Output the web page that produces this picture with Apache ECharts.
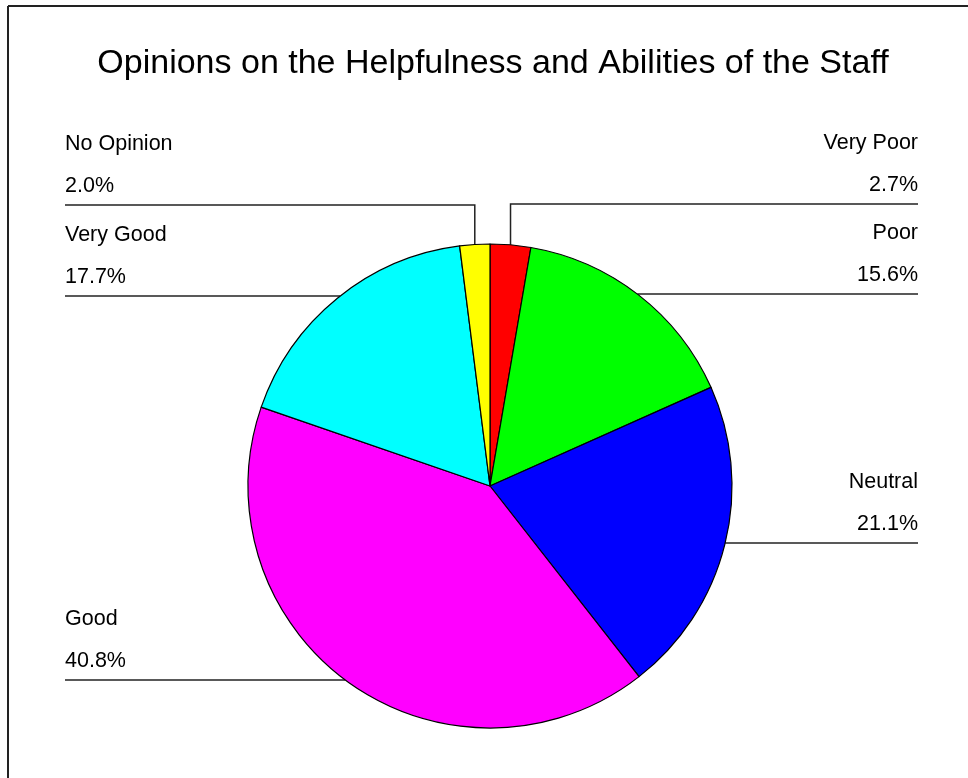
<!DOCTYPE html>
<html><head><meta charset="utf-8">
<script src="https://cdn.jsdelivr.net/npm/echarts@6/dist/echarts.min.js"></script>
<style>html,body{margin:0;padding:0;background:#fff}#c{width:968px;height:778px}</style>
</head><body><div id="c"></div>
<script>
const categories = ['Very Poor', 'Poor', 'Neutral', 'Good', 'Very Good', 'No Opinion'];
const values = [2.7, 15.6, 21.1, 40.8, 17.7, 2.0];
const colors = ['#FF0000', '#00FF00', '#0000FF', '#FF00FF', '#00FFFF', '#FFFF00'];
const titleText = 'Opinions on the Helpfulness and Abilities of the Staff';

const CX = 490, CY = 486, R = 242;
const LEFT_X = 65, RIGHT_X = 918;
const labelPlaces = [
  { side: 'right', lineY: 204, mode: 'vertical' },
  { side: 'right', lineY: 294, mode: 'horizontal' },
  { side: 'right', lineY: 543, mode: 'horizontal' },
  { side: 'left', lineY: 680, mode: 'horizontal' },
  { side: 'left', lineY: 296, mode: 'horizontal' },
  { side: 'left', lineY: 205, mode: 'vertical' }
];

const total = values.reduce((a, b) => a + b, 0);
const cum = [];
values.reduce((acc, v, i) => { cum[i] = acc; return acc + v; }, 0);

const chart = echarts.init(document.getElementById('c'), null, { renderer: 'canvas' });
chart.setOption({
  backgroundColor: '#fff',
  animation: false,
  title: {
    text: titleText, left: 488, top: 42, textAlign: 'center',
    textStyle: { fontFamily: 'Liberation Sans, Arial, sans-serif', fontSize: 34, fontWeight: 'normal', color: '#000' }
  },
  graphic: [
    { type: 'line', shape: { x1: 8, y1: 6, x2: 968, y2: 6 }, style: { stroke: '#222', lineWidth: 2 } },
    { type: 'line', shape: { x1: 8, y1: 6, x2: 8, y2: 778 }, style: { stroke: '#222', lineWidth: 2 } }
  ],
  series: [{
    type: 'pie',
    center: [CX, CY],
    radius: [0, R],
    startAngle: 90,
    clockwise: true,
    avoidLabelOverlap: false,
    data: categories.map((n, i) => ({ name: n, value: values[i], itemStyle: { color: colors[i] } })),
    itemStyle: { borderColor: '#000', borderWidth: 1.2 },
    label: {
      show: true, position: 'outside',
      formatter: p => p.name + '\n' + p.value.toFixed(1) + '%',
      fontFamily: 'Liberation Sans, Arial, sans-serif', fontSize: 21.5, lineHeight: 42, color: '#000'
    },
    labelLine: { show: true, lineStyle: { color: '#222', width: 1.5 } },
    emphasis: { disabled: true },
    labelLayout: function (params) {
      const i = params.dataIndex;
      const p = labelPlaces[i];
      const right = p.side === 'right';
      const endX = right ? RIGHT_X : LEFT_X;
      let pts;
      if (p.mode === 'vertical') {
        const th = (cum[i] + values[i] / 2) / total * Math.PI * 2;
        const ax = CX + R * Math.sin(th), ay = CY - R * Math.cos(th);
        pts = [[ax, ay], [ax, p.lineY], [endX, p.lineY]];
      } else {
        const dy = p.lineY - CY;
        const dx = Math.sqrt(Math.max(R * R - dy * dy, 0));
        const sx = right ? CX + dx : CX - dx;
        pts = [[sx, p.lineY], [(sx + endX) / 2, p.lineY], [endX, p.lineY]];
      }
      return { x: endX, y: p.lineY + 2, align: right ? 'right' : 'left', verticalAlign: 'bottom', labelLinePoints: pts };
    }
  }]
});
</script></body></html>
